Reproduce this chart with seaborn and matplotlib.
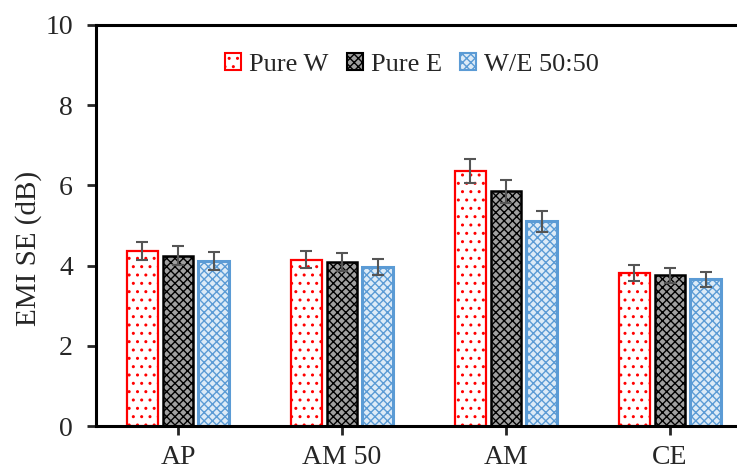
import matplotlib
matplotlib.use('Agg')
import matplotlib.pyplot as plt
from matplotlib.patches import Patch
import seaborn as sns
import pandas as pd
import numpy as np

# ── Data ─────────────────────────────────────────────────────────────────
categories = ["AP", "AM 50", "AM", "CE"]
series     = ["Pure W", "Pure E", "W/E 50:50"]
pure_w     = [4.36, 4.15, 6.36, 3.81]
pure_e     = [4.25, 4.09, 5.85, 3.76]
we_5050    = [4.12, 3.97, 5.11, 3.66]
err_w      = [0.22, 0.22, 0.31, 0.20]
err_e      = [0.23, 0.22, 0.29, 0.19]
err_we     = [0.22, 0.20, 0.26, 0.19]

df = pd.DataFrame({
    "cat":    categories * 3,
    "series": np.repeat(series, len(categories)),
    "val":    pure_w + pure_e + we_5050,
})
errs = [err_w, err_e, err_we]

# styles per series: (face, edge, hatch, edge width)
styles = [("white",   "#FF0000", "..",   1.6),
          ("#A0A0A0", "#000000", "xxxx", 1.8),
          ("#DDEBF7", "#5B9BD5", "xxxx", 2.2)]

sns.set_style("ticks")
plt.rcParams['font.family'] = ['Liberation Serif', 'DejaVu Serif']
plt.rcParams['hatch.linewidth'] = 1.0

fig = plt.figure(figsize=(7.37, 4.71), dpi=100)
ax = fig.add_axes([96/737, 45/471, 656/737, 401/471])

sns.barplot(data=df, x="cat", y="val", hue="series", order=categories,
            hue_order=series, errorbar=None, width=0.65, gap=0.15,
            legend=False, ax=ax)

for cont, (fc, ec, h, lw), e in zip(ax.containers, styles, errs):
    xs, ys = [], []
    for bar in cont:
        bar.set_facecolor(fc)
        bar.set_edgecolor(ec)
        bar.set_hatch(h)
        bar.set_linewidth(lw)
        xs.append(bar.get_x() + bar.get_width() / 2)
        ys.append(bar.get_height())
    ax.errorbar(xs, ys, yerr=e, fmt='none', ecolor="#555555",
                elinewidth=1.5, capsize=4.5, capthick=1.5, zorder=5)

ax.set_xlim(-0.5, 3.5)
ax.set_ylim(0, 10)
ax.set_yticks([0, 2, 4, 6, 8, 10])
ax.set_xlabel("")
ax.set_ylabel("EMI SE (dB)", fontsize=21)
ax.yaxis.set_label_coords(-0.082, 0.444)
ax.tick_params(axis='both', labelsize=20, width=2, length=6.5, direction='out')
ax.tick_params(axis='x', pad=7)
ax.tick_params(axis='y', pad=10)
for s in ["left", "bottom", "top"]:
    ax.spines[s].set_linewidth(2.2)
    ax.spines[s].set_color("black")
ax.spines["right"].set_visible(False)

handles = [Patch(facecolor=fc, edgecolor=ec, hatch=h, linewidth=1.5, label=lab)
           for (fc, ec, h, lw), lab in zip(styles, series)]
ax.legend(handles=handles, loc="center", bbox_to_anchor=(0.482, 0.902),
          ncol=3, frameon=False, fontsize=19, handlelength=0.6,
          handleheight=0.6, handletextpad=0.3, columnspacing=0.7,
          borderpad=0.2)

fig.savefig("out.png", dpi=100)
